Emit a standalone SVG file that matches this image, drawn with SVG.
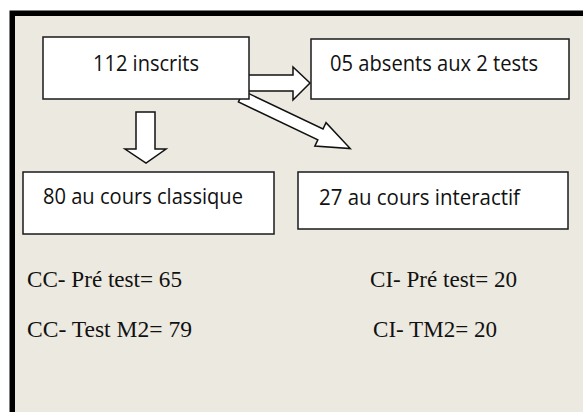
<svg xmlns="http://www.w3.org/2000/svg" width="583" height="412" viewBox="0 0 583 412">
<style>
.box{fill:#ffffff;stroke:#1a1a1a;stroke-width:1.5}
.arrow{fill:#ffffff;stroke:#111111;stroke-width:1.5;stroke-linejoin:miter}
.lbl{font-family:"Open Sans","Noto Sans","Liberation Sans",sans-serif;font-size:21px;fill:#111111}
.ser{font-family:"Liberation Serif","Times New Roman",serif;font-size:23px;fill:#111111}
</style>
<rect x="0" y="0" width="583" height="412" fill="#ffffff"/>
<rect x="12.25" y="13.25" width="600" height="420" fill="#ECE9E0" stroke="#000000" stroke-width="5.5"/>
<g id="connectors">
<polygon class="arrow" points="248,75 293,75 293,67 310,83 293,100 293,91 248,91"/>
<polygon class="arrow" points="136,112 155,112 155,149 166,149 146,163 125,149 136,149"/>
<polygon class="arrow" transform="translate(241,96.5) rotate(25.5)" points="0,-6 88,-6 88,-13 121,0 88,13 88,6 0,6"/>
</g>
<g id="n112">
<rect class="box" x="43" y="37" width="206" height="62"/>
<text class="lbl" x="146" y="71" text-anchor="middle" textLength="106" lengthAdjust="spacingAndGlyphs">112 inscrits</text>
</g>
<g id="absents">
<rect class="box" x="311" y="39" width="258" height="60"/>
<text class="lbl" x="330" y="71" textLength="208" lengthAdjust="spacingAndGlyphs">05 absents aux 2 tests</text>
</g>
<g id="classique">
<rect class="box" x="23" y="172" width="251" height="62"/>
<text class="lbl" x="43" y="204" textLength="200" lengthAdjust="spacingAndGlyphs">80 au cours classique</text>
</g>
<g id="interactif">
<rect class="box" x="298" y="172" width="270" height="57"/>
<text class="lbl" x="319" y="205" textLength="201" lengthAdjust="spacingAndGlyphs">27 au cours interactif</text>
</g>
<g id="stats">
<text class="ser" x="27" y="287" textLength="155" lengthAdjust="spacingAndGlyphs">CC- Pré test= 65</text>
<text class="ser" x="27" y="337" textLength="165" lengthAdjust="spacingAndGlyphs">CC- Test M2= 79</text>
<text class="ser" x="370" y="287" textLength="147" lengthAdjust="spacingAndGlyphs">CI- Pré test= 20</text>
<text class="ser" x="373" y="337" textLength="124" lengthAdjust="spacingAndGlyphs">CI- TM2= 20</text>
</g>
</svg>
